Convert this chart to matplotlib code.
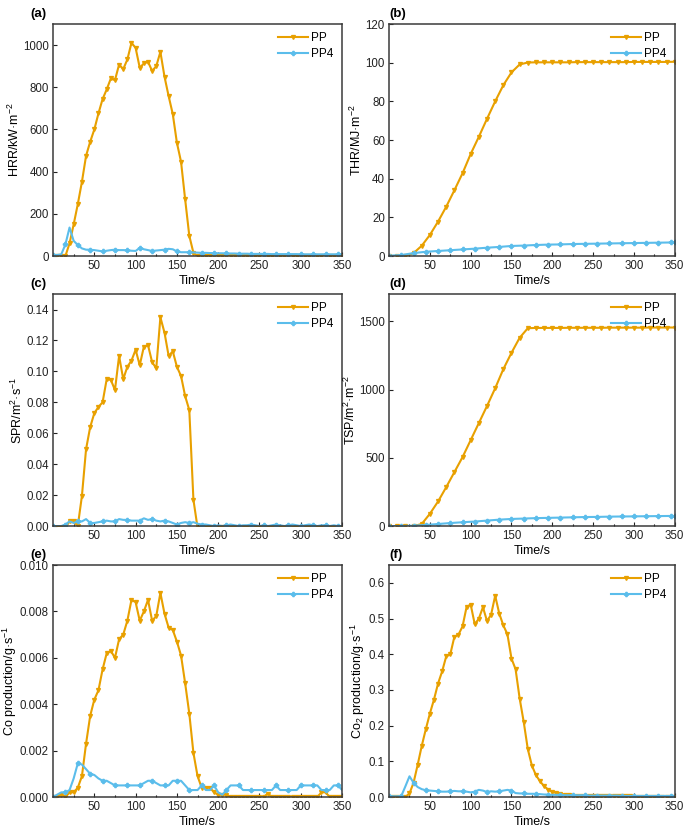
import matplotlib
matplotlib.use('Agg')
import matplotlib.pyplot as plt
from matplotlib.ticker import MultipleLocator

plt.rcParams['font.family'] = ['Liberation Sans', 'DejaVu Sans']
plt.rcParams['mathtext.fontset'] = 'custom'
plt.rcParams['mathtext.rm'] = 'Liberation Sans'
plt.rcParams['mathtext.default'] = 'regular'

ORANGE = '#E8A000'
BLUE = '#5BBDEB'

# time axes
t5 = list(range(0, 351, 5))
t10 = list(range(0, 351, 10))
t15 = list(range(0, 346, 15)) + [350]

# (a) heat release rate, kW/m2
hrr_pp = [0, 0, 0, 0, 60, 150, 246, 352, 475, 542, 600, 676, 744, 790, 842, 834,
          908, 886, 932, 1011, 987, 893, 913, 921, 878, 900, 968, 850, 758, 673,
          537, 447, 268, 96, 15, 0, 0, 0, 0, 0, 0, 0, 0, 0, 0, 0, 0, 0, 0, 0,
          0, 0, 0, 0, 0, 0, 0, 0, 0, 0, 0, 0, 0, 0, 0, 0, 0, 0, 0, 0, 0]
hrr_pp4 = [5, 5, 8, 55, 135, 72, 52, 36, 30, 30, 28, 25, 22, 25, 28, 30,
           28, 28, 27, 25, 24, 38, 32, 28, 24, 26, 28, 30, 34, 32, 22, 18,
           18, 18, 17, 16, 15, 15, 14, 14, 13, 13, 12, 12, 12, 11, 11, 11, 10, 10,
           10, 10, 10, 9, 9, 9, 9, 9, 9, 9, 8, 8, 8, 8, 8, 8, 8, 8, 8, 8, 8]

# (b) total heat release, MJ/m2
thr_pp = [0, 0, 0, 1.5, 5.3, 10.9, 17.8, 25.5, 34.0, 42.8, 52.8, 61.7, 71.0, 80.0,
          88.4, 95.0, 99.1, 100.1, 100.2, 100.2, 100.2, 100.2, 100.2, 100.3, 100.3,
          100.3, 100.3, 100.3, 100.3, 100.3, 100.4, 100.4, 100.4, 100.4, 100.4, 100.5]
thr_pp4 = [0.2, 0.5, 1.5, 2.2, 2.6, 3.0, 3.4, 3.8, 4.3, 4.7, 5.2, 5.4, 5.7, 5.9,
           6.0, 6.2, 6.3, 6.4, 6.5, 6.6, 6.7, 6.8, 6.9, 7.0, 7.0]

# (c) smoke production rate, m2/s
spr_pp = [-0.001, -0.001, -0.001, -0.001, 0.003, 0.003, 0.0, 0.0195, 0.0497, 0.064,
          0.073, 0.077, 0.080, 0.095, 0.0945, 0.088, 0.110, 0.095, 0.103, 0.107,
          0.114, 0.104, 0.116, 0.117, 0.106, 0.102, 0.135, 0.125, 0.110, 0.113,
          0.103, 0.097, 0.084, 0.075, 0.017, -0.001, -0.001, -0.001, -0.001, -0.001,
          -0.001, -0.0005, -0.001, -0.001, -0.001, -0.001, -0.001, -0.0005, -0.001,
          -0.001, -0.001, -0.001, -0.001, -0.001, -0.0005, -0.001, -0.001, -0.001,
          -0.001, -0.001, -0.001, -0.001, -0.0005, -0.001, -0.001, -0.001, -0.001,
          -0.001, -0.001, -0.001, -0.001]
spr_pp4 = [0.0, 0.0, 0.0, 0.001, 0.003, 0.002, 0.003, 0.003, 0.0045, 0.002,
           0.002, 0.0025, 0.003, 0.0035, 0.003, 0.003, 0.0045, 0.004, 0.004, 0.0035,
           0.0035, 0.0035, 0.005, 0.004, 0.0045, 0.0035, 0.003, 0.0035, 0.003, 0.002,
           0.001, 0.002, 0.0025, 0.002, 0.0025, 0.0015, 0.001, 0.001, 0.0005, 0.0,
           0.0005, 0.0, 0.0005, 0.001, 0.0005, 0.0, 0.0005, 0.0005, 0.001, 0.0005,
           0.0, 0.0005, 0.0, 0.0005, 0.001, 0.0005, 0.0, 0.0005, 0.001, 0.0005,
           0.0, 0.0005, 0.001, 0.0005, 0.0, 0.0005, 0.0005, 0.0, 0.0005, 0.0, 0.0]

# (d) total smoke production, m2/m2
tsp_pp = [0, 0, 0, 0, 15, 90, 180, 285, 395, 505, 630, 755, 880, 1010, 1150, 1270,
          1380, 1450, 1452, 1452, 1452, 1452, 1453, 1453, 1453, 1453, 1453, 1454,
          1454, 1454, 1454, 1454, 1455, 1455, 1455, 1455]
tsp_pp4 = [0, 0, 3, 8, 15, 22, 28, 33, 40, 47, 52, 55, 58, 60, 62, 64, 66, 67, 69,
           70, 71, 72, 73, 74, 74]

# (e) CO production, g/s
co_pp = [0, 0, 0.0001, 0, 0.0002, 0.0002, 0.0004, 0.0009, 0.0023, 0.0035,
         0.0042, 0.0046, 0.0055, 0.0062, 0.0063, 0.0060, 0.0068, 0.0070, 0.0076, 0.0085,
         0.0084, 0.0076, 0.0080, 0.0085, 0.0076, 0.0078, 0.0088, 0.0079, 0.0073, 0.0072,
         0.0067, 0.0061, 0.0049, 0.0036, 0.0019, 0.0009, 0.0004, 0.0004, 0.0004, 0.0002,
         0.0001, 0.0001, 0.0001, 0, 0, 0, 0, 0, 0, 0,
         0, 0, 0.00015, 0, 0, 0, 0, 0, 0, 0,
         0, 0, 0, 0, 0, 0.0002, 0.0002, 0, 0, 0, 0]
co_pp4 = [0, 0.0001, 0.0002, 0.0002, 0.0003, 0.0008, 0.00145, 0.0014, 0.0012, 0.0010,
          0.00095, 0.0008, 0.0007, 0.0007, 0.0006, 0.0005, 0.0005, 0.0005, 0.0005, 0.0005,
          0.0005, 0.0005, 0.0006, 0.0007, 0.0007, 0.0006, 0.0005, 0.0005, 0.0005, 0.0007,
          0.0007, 0.0007, 0.0005, 0.0003, 0.0003, 0.0003, 0.0005, 0.0003, 0.0003, 0.0005,
          0.0002, 0.0001, 0.0003, 0.0005, 0.0005, 0.0005, 0.0003, 0.0003, 0.0003, 0.0003,
          0.0003, 0.0003, 0.0003, 0.0003, 0.0005, 0.0003, 0.0003, 0.0003, 0.0003, 0.0003,
          0.0005, 0.0005, 0.0005, 0.0005, 0.0005, 0.0003, 0.0003, 0.0003, 0.0005, 0.0005, 0.0003]

# (f) CO2 production, g/s
co2_pp = [0, 0, 0, 0, 0, 0.01, 0.04, 0.09, 0.143, 0.19,
          0.234, 0.273, 0.318, 0.352, 0.394, 0.400, 0.449, 0.455, 0.478, 0.533,
          0.539, 0.484, 0.500, 0.532, 0.493, 0.511, 0.564, 0.514, 0.481, 0.456,
          0.388, 0.358, 0.276, 0.210, 0.134, 0.088, 0.061, 0.044, 0.030, 0.021,
          0.015, 0.011, 0.008, 0.006, 0.005, 0.004, 0.003, 0.003, 0.003, 0.003,
          0.002, 0.002, 0.002, 0.002, 0.002, 0.002, 0.002, 0.002, 0.002, 0.002,
          0.001, 0.001, 0.001, 0.001, 0.001, 0.001, 0.001, 0.001, 0.001, 0.001, 0.001]
co2_pp4 = [0.003, 0.002, 0.002, 0.003, 0.030, 0.058, 0.040, 0.028, 0.022, 0.019,
           0.018, 0.017, 0.016, 0.015, 0.015, 0.016, 0.017, 0.016, 0.016, 0.015,
           0.013, 0.015, 0.020, 0.018, 0.014, 0.016, 0.015, 0.016, 0.018, 0.020,
           0.018, 0.011, 0.010, 0.010, 0.009, 0.009, 0.009, 0.008, 0.007, 0.007,
           0.006, 0.006, 0.006, 0.005, 0.005, 0.005, 0.005, 0.005, 0.005, 0.004,
           0.004, 0.004, 0.004, 0.004, 0.004, 0.004, 0.004, 0.003, 0.003, 0.003,
           0.003, 0.003, 0.003, 0.003, 0.003, 0.003, 0.003, 0.003, 0.003, 0.003, 0.003]

panels = [
    ('(a)', t5, hrr_pp, t5, hrr_pp4, 3, (0, 1100), 200, 'HRR/kW·m$^{-2}$', None),
    ('(b)', t10, thr_pp, t15, thr_pp4, 1, (0, 120), 20, 'THR/MJ·m$^{-2}$', None),
    ('(c)', t5, spr_pp, t5, spr_pp4, 3, (0, 0.15), 0.02, 'SPR/m$^{2}$·s$^{-1}$', '%.2f'),
    ('(d)', t10, tsp_pp, t15, tsp_pp4, 1, (0, 1700), 500, 'TSP/m$^{2}$·m$^{-2}$', None),
    ('(e)', t5, co_pp, t5, co_pp4, 3, (0, 0.010), 0.002, 'Co production/g·s$^{-1}$', '%.3f'),
    ('(f)', t5, co2_pp, t5, co2_pp4, 3, (0, 0.65), 0.1, 'Co$_2$ production/g·s$^{-1}$', '%.1f'),
]

fig = plt.figure(figsize=(6.85, 8.35), dpi=100)
lefts = [0.0774, 0.568]
bottoms = [0.6934, 0.370, 0.0455]
widths = [0.422, 0.417]
height = 0.2778

for i, (tag, tx, ypp, tx4, ypp4, mev, ylim, ystep, ylabel, fmt) in enumerate(panels):
    r, c = divmod(i, 2)
    ax = fig.add_axes([lefts[c], bottoms[r], widths[c], height])
    ax.plot(tx, ypp, color=ORANGE, lw=1.5, marker='v', ms=2.8, label='PP')
    ax.plot(tx4, ypp4, color=BLUE, lw=1.5, marker='P', ms=3, markevery=mev, label='PP4')
    ax.set_xlim(0, 350)
    ax.set_ylim(*ylim)
    ax.set_xticks([50, 100, 150, 200, 250, 300, 350])
    ax.xaxis.set_minor_locator(MultipleLocator(25))
    ax.yaxis.set_major_locator(MultipleLocator(ystep))
    if fmt:
        ax.yaxis.set_major_formatter(matplotlib.ticker.FormatStrFormatter(fmt))
    ax.tick_params(direction='in', labelsize=8.3, length=3, width=0.8, colors='#222222', pad=3)
    ax.tick_params(which='minor', direction='in', length=1.5, width=0.8)
    for sp in ax.spines.values():
        sp.set_color('#3a3a3a')
        sp.set_linewidth(1.1)
    ax.set_xlabel('Time/s', fontsize=9, labelpad=2)
    ax.set_ylabel(ylabel, fontsize=9, labelpad=1 if tag != '(e)' else 0.5)
    ax.legend(loc='upper right', frameon=False, fontsize=8.5, handlelength=2.5,
              handletextpad=0.3, labelspacing=0.3, borderaxespad=0.3)
    tx_pos = 0.045 if c == 0 else lefts[c]
    fig.text(tx_pos, bottoms[r] + height + 0.005, tag, fontsize=9.5,
             fontweight='bold', ha='left', va='bottom')

fig.savefig('out.png', dpi=100)
